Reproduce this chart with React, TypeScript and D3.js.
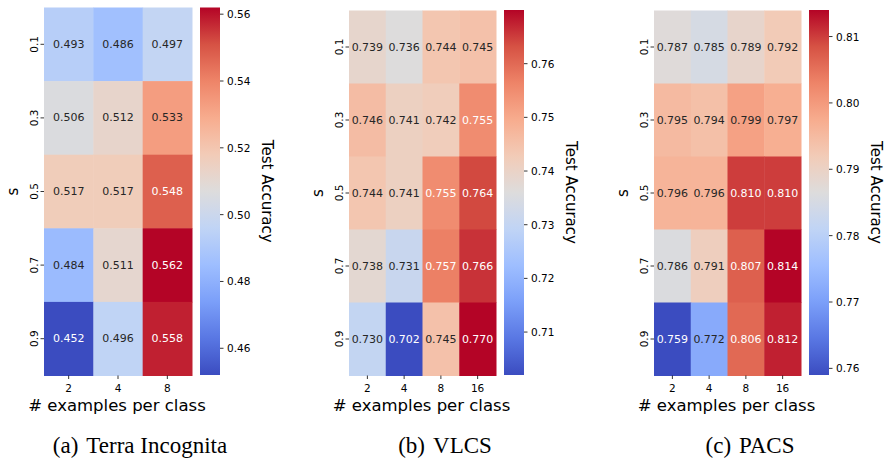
import * as d3 from "d3";

const sLabels = ["0.1", "0.3", "0.5", "0.7", "0.9"];

const terraCols = ["2", "4", "8"];
const terraValues = [
  [0.493, 0.486, 0.497],
  [0.506, 0.512, 0.533],
  [0.517, 0.517, 0.548],
  [0.484, 0.511, 0.562],
  [0.452, 0.496, 0.558],
];
const terraTicks = [0.46, 0.48, 0.5, 0.52, 0.54, 0.56];

const vlcsCols = ["2", "4", "8", "16"];
const vlcsValues = [
  [0.739, 0.736, 0.744, 0.745],
  [0.746, 0.741, 0.742, 0.755],
  [0.744, 0.741, 0.755, 0.764],
  [0.738, 0.731, 0.757, 0.766],
  [0.73, 0.702, 0.745, 0.77],
];
const vlcsTicks = [0.71, 0.72, 0.73, 0.74, 0.75, 0.76];

const pacsCols = ["2", "4", "8", "16"];
const pacsValues = [
  [0.787, 0.785, 0.789, 0.792],
  [0.795, 0.794, 0.799, 0.797],
  [0.796, 0.796, 0.81, 0.81],
  [0.786, 0.791, 0.807, 0.814],
  [0.759, 0.772, 0.806, 0.812],
];
const pacsTicks = [0.76, 0.77, 0.78, 0.79, 0.8, 0.81];

// matplotlib coolwarm, sampled
const coolwarm = d3.piecewise(d3.interpolateRgb, [
  "#3b4cc0", "#5977e3", "#7b9ff9", "#9ebeff", "#c0d4f5", "#dddcdc",
  "#f2cbb7", "#f7ac8e", "#ee8468", "#d65244", "#b40426",
]);

function textColor(c: string) {
  const rgb = d3.rgb(c);
  const lin = (v: number) => {
    const x = v / 255;
    return x <= 0.03928 ? x / 12.92 : Math.pow((x + 0.055) / 1.055, 2.4);
  };
  const l = 0.2126 * lin(rgb.r) + 0.7152 * lin(rgb.g) + 0.0722 * lin(rgb.b);
  return l > 0.408 ? "#262626" : "#ffffff";
}

const font = "DejaVu Sans, sans-serif";

function Heatmap({ id, cols, values, ticks, hm, cb, caption, tag }) {
  const flat = values.flat();
  const vmin = d3.min(flat), vmax = d3.max(flat);
  const color = d3.scaleSequential(coolwarm).domain([vmin, vmax]);

  const x = d3.scaleBand().domain(cols).range([hm.x0, hm.x1]);
  const y = d3.scaleBand().domain(sLabels).range([hm.y0, hm.y1]);
  const cy = d3.scaleLinear().domain([vmin, vmax]).range([cb.y1, cb.y0]);

  const stops = d3.range(0, 1.0001, 0.05);
  const midY = (hm.y0 + hm.y1) / 2;

  return (
    <g>
      <defs>
        <linearGradient id={id} x1="0" y1="1" x2="0" y2="0">
          {stops.map((t) => (
            <stop key={t} offset={t} stopColor={coolwarm(t)} />
          ))}
        </linearGradient>
      </defs>
      {values.map((row, i) =>
        row.map((v, j) => (
          <g key={i + "-" + j}>
            <rect
              x={x(cols[j])}
              y={y(sLabels[i])}
              width={x.bandwidth() + 0.5}
              height={y.bandwidth() + 0.5}
              fill={color(v)}
            />
            <text
              x={x(cols[j]) + x.bandwidth() / 2}
              y={y(sLabels[i]) + y.bandwidth() / 2}
              textAnchor="middle"
              dominantBaseline="central"
              fontSize={11}
              fill={textColor(color(v))}
            >
              {v.toFixed(3)}
            </text>
          </g>
        ))
      )}
      {sLabels.map((s) => {
        const yy = y(s) + y.bandwidth() / 2;
        return (
          <g key={s}>
            <line x1={hm.x0 - 3.5} x2={hm.x0} y1={yy} y2={yy} stroke="#000" strokeWidth={0.8} />
            <text
              transform={`translate(${hm.x0 - 6},${yy}) rotate(-90)`}
              textAnchor="middle"
              fontSize={10.5}
              fill="#000"
            >
              {s}
            </text>
          </g>
        );
      })}
      {cols.map((c) => {
        const xx = x(c) + x.bandwidth() / 2;
        return (
          <g key={c}>
            <line x1={xx} x2={xx} y1={hm.y1} y2={hm.y1 + 3.5} stroke="#000" strokeWidth={0.8} />
            <text x={xx} y={hm.y1 + 16} textAnchor="middle" fontSize={10.5} fill="#000">
              {c}
            </text>
          </g>
        );
      })}
      <text
        transform={`translate(${hm.x0 - 26},${midY}) rotate(-90)`}
        textAnchor="middle"
        fontSize={15}
        fill="#000"
      >
        s
      </text>
      <text x={(hm.x0 + hm.x1) / 2 - 1} y={hm.y1 + 35} textAnchor="middle" fontSize={16.5} fill="#000">
        # examples per class
      </text>
      <rect x={cb.x0} y={cb.y0} width={cb.x1 - cb.x0} height={cb.y1 - cb.y0} fill={`url(#${id})`} />
      {ticks.map((t) => (
        <g key={t}>
          <line x1={cb.x1} x2={cb.x1 + 3.5} y1={cy(t)} y2={cy(t)} stroke="#000" strokeWidth={0.8} />
          <text x={cb.x1 + 7} y={cy(t)} dominantBaseline="central" fontSize={10.5} fill="#000">
            {t.toFixed(2)}
          </text>
        </g>
      ))}
      <text
        transform={`translate(${cb.x1 + 42},${(cb.y0 + cb.y1) / 2}) rotate(90)`}
        textAnchor="middle"
        fontSize={15}
        fill="#000"
      >
        Test Accuracy
      </text>
      <text
        x={caption.x}
        y={453}
        textAnchor="middle"
        fontFamily="Liberation Serif, Times New Roman, serif"
        fontSize={23}
        fill="#000"
      >
        {tag}
        <tspan dx={8}>{caption.text}</tspan>
      </text>
    </g>
  );
}

export default function App() {
  return (
    <svg
      width={885}
      height={460}
      style={{ position: "absolute", left: 0, top: 0, background: "#fff" }}
      fontFamily={font}
    >
      <Heatmap
        id="cb-a"
        cols={terraCols}
        values={terraValues}
        ticks={terraTicks}
        hm={{ x0: 44, x1: 192, y0: 7.5, y1: 375.5 }}
        cb={{ x0: 200, x1: 220, y0: 7.5, y1: 375 }}
        caption={{ x: 140, text: "Terra Incognita" }}
        tag="(a)"
      />
      <Heatmap
        id="cb-b"
        cols={vlcsCols}
        values={vlcsValues}
        ticks={vlcsTicks}
        hm={{ x0: 349, x1: 496, y0: 10.5, y1: 375.5 }}
        cb={{ x0: 504, x1: 524, y0: 10, y1: 375 }}
        caption={{ x: 445, text: "VLCS" }}
        tag="(b)"
      />
      <Heatmap
        id="cb-c"
        cols={pacsCols}
        values={pacsValues}
        ticks={pacsTicks}
        hm={{ x0: 654, x1: 801, y0: 10.5, y1: 375.5 }}
        cb={{ x0: 809, x1: 829, y0: 10, y1: 375 }}
        caption={{ x: 750, text: "PACS" }}
        tag="(c)"
      />
    </svg>
  );
}
